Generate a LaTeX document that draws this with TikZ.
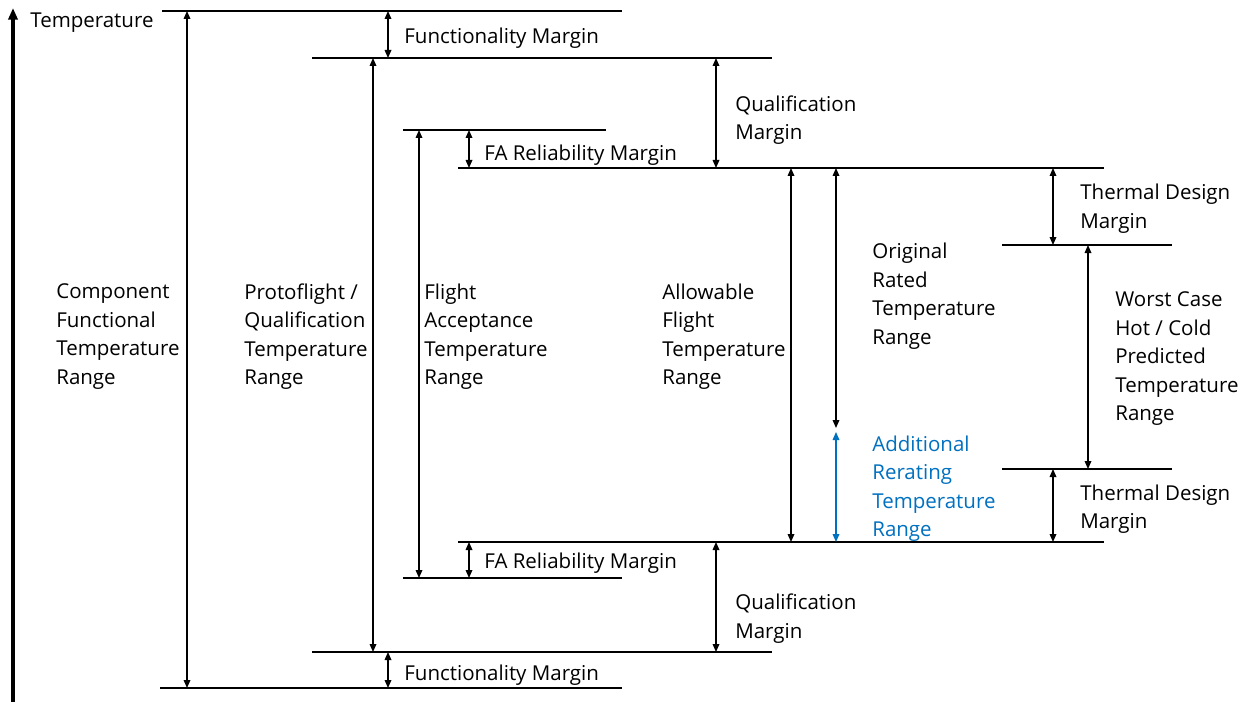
\documentclass[tikz,border=0pt]{standalone}
\usepackage{fontspec}
\setmainfont{Open Sans}
\usetikzlibrary{arrows.meta}
\definecolor{rerate}{HTML}{0070C0}
\begin{document}
\begin{tikzpicture}[x=0.6pt,y=-0.6pt,
  level/.style={line width=0.9pt},
  span/.style={line width=0.7pt,{Triangle[length=4.8pt,width=4pt]}-{Triangle[length=4.8pt,width=4pt]}},
  lbl/.style={anchor=west,align=left,inner sep=0pt,font=\fontsize{12.3}{17.1}\selectfont}]
\useasboundingbox (0,0) rectangle (1250,702);

% temperature axis
\coordinate (axB) at (13,702);
\coordinate (axT) at (13,8);
\draw[line width=2pt,-{Triangle[length=7pt,width=5.5pt]}] (axB) -- (axT);
\node[lbl] (tlab) at (30,22.5) {Temperature};

% horizontal temperature levels
\draw[level] (162,11) coordinate (l1a) -- (622,11) coordinate (l1b);
\draw[level] (312,58) coordinate (l2a) -- (772,58) coordinate (l2b);
\draw[level] (403,130) coordinate (l3a) -- (606,130) coordinate (l3b);
\draw[level] (458,168) coordinate (l4a) -- (1104,168) coordinate (l4b);
\draw[level] (1002,245) coordinate (l5a) -- (1172,245) coordinate (l5b);
\draw[level] (1002,469) coordinate (l6a) -- (1172,469) coordinate (l6b);
\draw[level] (458,542) coordinate (l7a) -- (1104,542) coordinate (l7b);
\draw[level] (403,578) coordinate (l8a) -- (622,578) coordinate (l8b);
\draw[level] (312,652) coordinate (l9a) -- (772,652) coordinate (l9b);
\draw[level] (160,688) coordinate (l10a) -- (622,688) coordinate (l10b);

% span end points
\coordinate (c1t) at (187,11);  \coordinate (c1b) at (187,688);
\coordinate (f1t) at (388,11);  \coordinate (f1b) at (388,58);
\coordinate (p1t) at (373,58);  \coordinate (p1b) at (373,652);
\coordinate (q1t) at (716,58);  \coordinate (q1b) at (716,168);
\coordinate (a1t) at (419,130); \coordinate (a1b) at (419,578);
\coordinate (r1t) at (469,130); \coordinate (r1b) at (469,168);
\coordinate (w1t) at (791,168); \coordinate (w1b) at (791,542);
\coordinate (o1t) at (836,168); \coordinate (o1b) at (836,428);
\coordinate (x1t) at (836,432); \coordinate (x1b) at (836,542);
\coordinate (t1t) at (1053,168); \coordinate (t1b) at (1053,245);
\coordinate (h1t) at (1088,245); \coordinate (h1b) at (1088,469);
\coordinate (t2t) at (1053,469); \coordinate (t2b) at (1053,542);
\coordinate (r2t) at (469,542); \coordinate (r2b) at (469,578);
\coordinate (q2t) at (716,542); \coordinate (q2b) at (716,652);
\coordinate (f2t) at (388,652); \coordinate (f2b) at (388,688);

% spans
\draw[span] (c1t) -- (c1b);
\draw[span] (f1t) -- (f1b);
\draw[span] (p1t) -- (p1b);
\draw[span] (q1t) -- (q1b);
\draw[span] (a1t) -- (a1b);
\draw[span] (r1t) -- (r1b);
\draw[span] (w1t) -- (w1b);
\draw[span] (o1t) -- (o1b);
\draw[span,rerate] (x1t) -- (x1b);
\draw[span] (t1t) -- (t1b);
\draw[span] (h1t) -- (h1b);
\draw[span] (t2t) -- (t2b);
\draw[span] (r2t) -- (r2b);
\draw[span] (q2t) -- (q2b);
\draw[span] (f2t) -- (f2b);

% labels
\node[lbl] (lf1) at (404,38.5) {Functionality Margin};
\node[lbl] (lq1) at (735,120) {Qualification\\Margin};
\node[lbl] (lr1) at (484,155.5) {FA Reliability Margin};
\node[lbl] (lt1) at (1080,208.5) {Thermal Design\\Margin};
\node[lbl] (lc) at (56,336.5) {Component\\Functional\\Temperature\\Range};
\node[lbl] (lp) at (244,336.5) {Protoflight /\\Qualification\\Temperature\\Range};
\node[lbl] (la) at (424,336.5) {Flight\\Acceptance\\Temperature\\Range};
\node[lbl] (lw) at (662,336.5) {Allowable\\Flight\\Temperature\\Range};
\node[lbl] (lo) at (872,296) {Original\\Rated\\Temperature\\Range};
\node[lbl,text=rerate] (lx) at (872,488.5) {Additional\\Rerating\\Temperature\\Range};
\node[lbl] (lh) at (1115,359) {Worst Case\\Hot / Cold\\Predicted\\Temperature\\Range};
\node[lbl] (lt2) at (1080,509) {Thermal Design\\Margin};
\node[lbl] (lr2) at (484,563.5) {FA Reliability Margin};
\node[lbl] (lq2) at (735,618.5) {Qualification\\Margin};
\node[lbl] (lf2) at (404,675.5) {Functionality Margin};
\end{tikzpicture}
\end{document}
